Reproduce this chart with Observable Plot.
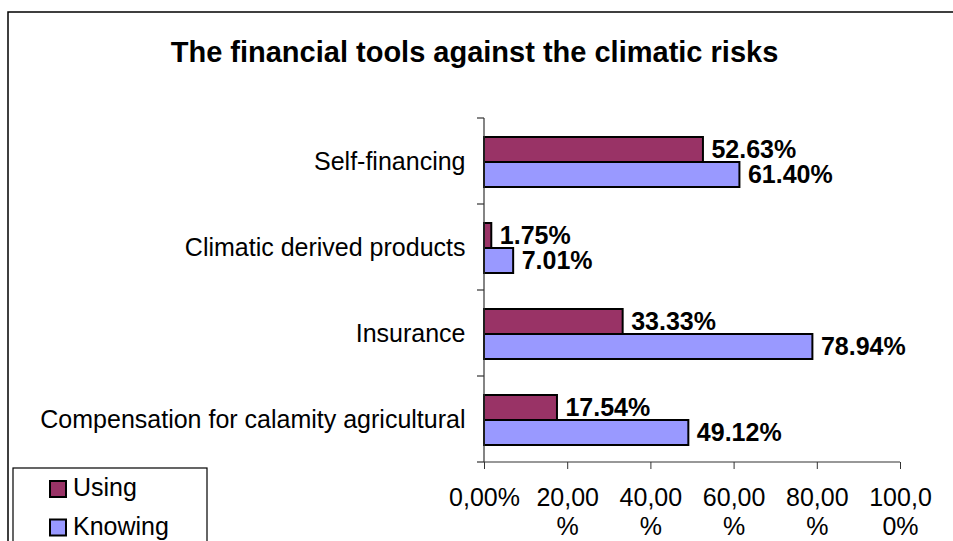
<!DOCTYPE html>
<html><head><meta charset="utf-8">
<script src="https://cdn.jsdelivr.net/npm/d3@7"></script>
<script src="https://cdn.jsdelivr.net/npm/@observablehq/plot@0.6"></script>
<style>
html,body{margin:0;padding:0;background:#fff;}
#chart{width:953px;height:541px;overflow:hidden;position:relative;}
</style></head><body><div id="chart"></div>
<script>
const titleText = "The financial tools against the climatic risks";
const categories = ["Self-financing", "Climatic derived products", "Insurance", "Compensation for calamity agricultural"];
const seriesNames = ["Using", "Knowing"];
const seriesColors = ["#993366", "#9999FF"];
const usingValues = [52.63, 1.75, 33.33, 17.54];
const knowingValues = [61.40, 7.01, 78.94, 49.12];
const xTicks = [0, 20, 40, 60, 80, 100];
const xTickLabels = ["0,00%", "20,00\n%", "40,00\n%", "60,00\n%", "80,00\n%", "100,0\n0%"];

const seriesValues = {Using: usingValues, Knowing: knowingValues};
const rows = categories.flatMap((c, i) => seriesNames.map(s => ({category: c, series: s, value: seriesValues[s][i]})));

const FONT = "'Liberation Sans', Arial, sans-serif";
const inset = {Using: {top: 19, bottom: 42}, Knowing: {top: 44, bottom: 17}};
const labelDy = {Using: -11.5, Knowing: 13.5};

// axis lines + category boundary ticks drawn from the scales
function axisLines(index, scales, values, dims) {
  const x = scales.x, y = scales.y;
  const n = categories.length;
  const bw = (typeof y.bandwidth === "function") ? y.bandwidth() : (dims.height - dims.marginTop - dims.marginBottom) / n;
  const x0 = x(0), x1 = x(100);
  const top = y(categories[0]);
  const bottom = y(categories[n - 1]) + bw;
  const g = d3.create("svg:g").attr("stroke", "#333").attr("stroke-width", 1.2).attr("fill", "none");
  g.append("line").attr("x1", x0).attr("x2", x0).attr("y1", top).attr("y2", bottom);
  g.append("line").attr("x1", x0).attr("x2", x1).attr("y1", bottom).attr("y2", bottom);
  const ys = categories.map(c => y(c)).concat([bottom]);
  for (const yy of ys) g.append("line").attr("x1", x0 - 7).attr("x2", x0).attr("y1", yy).attr("y2", yy);
  return g.node();
}

const marks = [];
for (const s of seriesNames) {
  const d = rows.filter(r => r.series === s);
  marks.push(Plot.barX(d, {x1: 0, x2: "value", y: "category", fill: "series", stroke: "#000", strokeWidth: 2,
    insetTop: inset[s].top, insetBottom: inset[s].bottom}));
  marks.push(Plot.text(d, {x: "value", y: "category", text: r => r.value.toFixed(2) + "%",
    textAnchor: "start", lineAnchor: "middle", dx: 8, dy: labelDy[s],
    fontSize: 25, fontWeight: "bold", fill: "#000"}));
}

const chart = Plot.plot({
  width: 953, height: 541,
  marginLeft: 484, marginRight: 53, marginTop: 118, marginBottom: 79,
  style: {fontFamily: FONT, background: "#fff", overflow: "visible", color: "#000"},
  x: {domain: [0, 100], label: null},
  y: {domain: categories, padding: 0, label: null},
  color: {domain: seriesNames, range: seriesColors},
  marks: [
    ...marks,
    axisLines,
    Plot.axisY({tickSize: 0, tickPadding: 19, fontSize: 25, fill: "#000", label: null}),
    Plot.axisX({ticks: xTicks, tickSize: 7, tickPadding: 16, stroke: "#333", fill: "#000",
      tickFormat: v => xTickLabels[xTicks.indexOf(v)], fontSize: 25, lineHeight: 1.16, label: null})
  ]
});

const svg = d3.select(chart);
// outer chart border
svg.append("path").attr("d", "M8,600V12H1000").attr("fill", "none").attr("stroke", "#000").attr("stroke-width", 1.5);
// title
svg.append("text").attr("x", 474.5).attr("y", 62).attr("text-anchor", "middle")
  .attr("font-size", 29).attr("font-weight", "bold").attr("fill", "#000").style("font-family", FONT).text(titleText);
// legend
const lg = svg.append("g").attr("text-anchor", "start");
lg.append("rect").attr("x", 13).attr("y", 468).attr("width", 194).attr("height", 120)
  .attr("fill", "#fff").attr("stroke", "#000").attr("stroke-width", 1.2);
seriesNames.forEach((s, i) => {
  lg.append("rect").attr("x", 50).attr("y", 481 + i * 38.5).attr("width", 16).attr("height", 16)
    .attr("fill", seriesColors[i]).attr("stroke", "#000").attr("stroke-width", 2);
  lg.append("text").attr("x", 73).attr("y", 496 + i * 38.5).attr("font-size", 25).attr("fill", "#000")
    .attr("text-anchor", "start").style("font-family", FONT).text(s);
});

document.getElementById("chart").appendChild(chart);
</script></body></html>
